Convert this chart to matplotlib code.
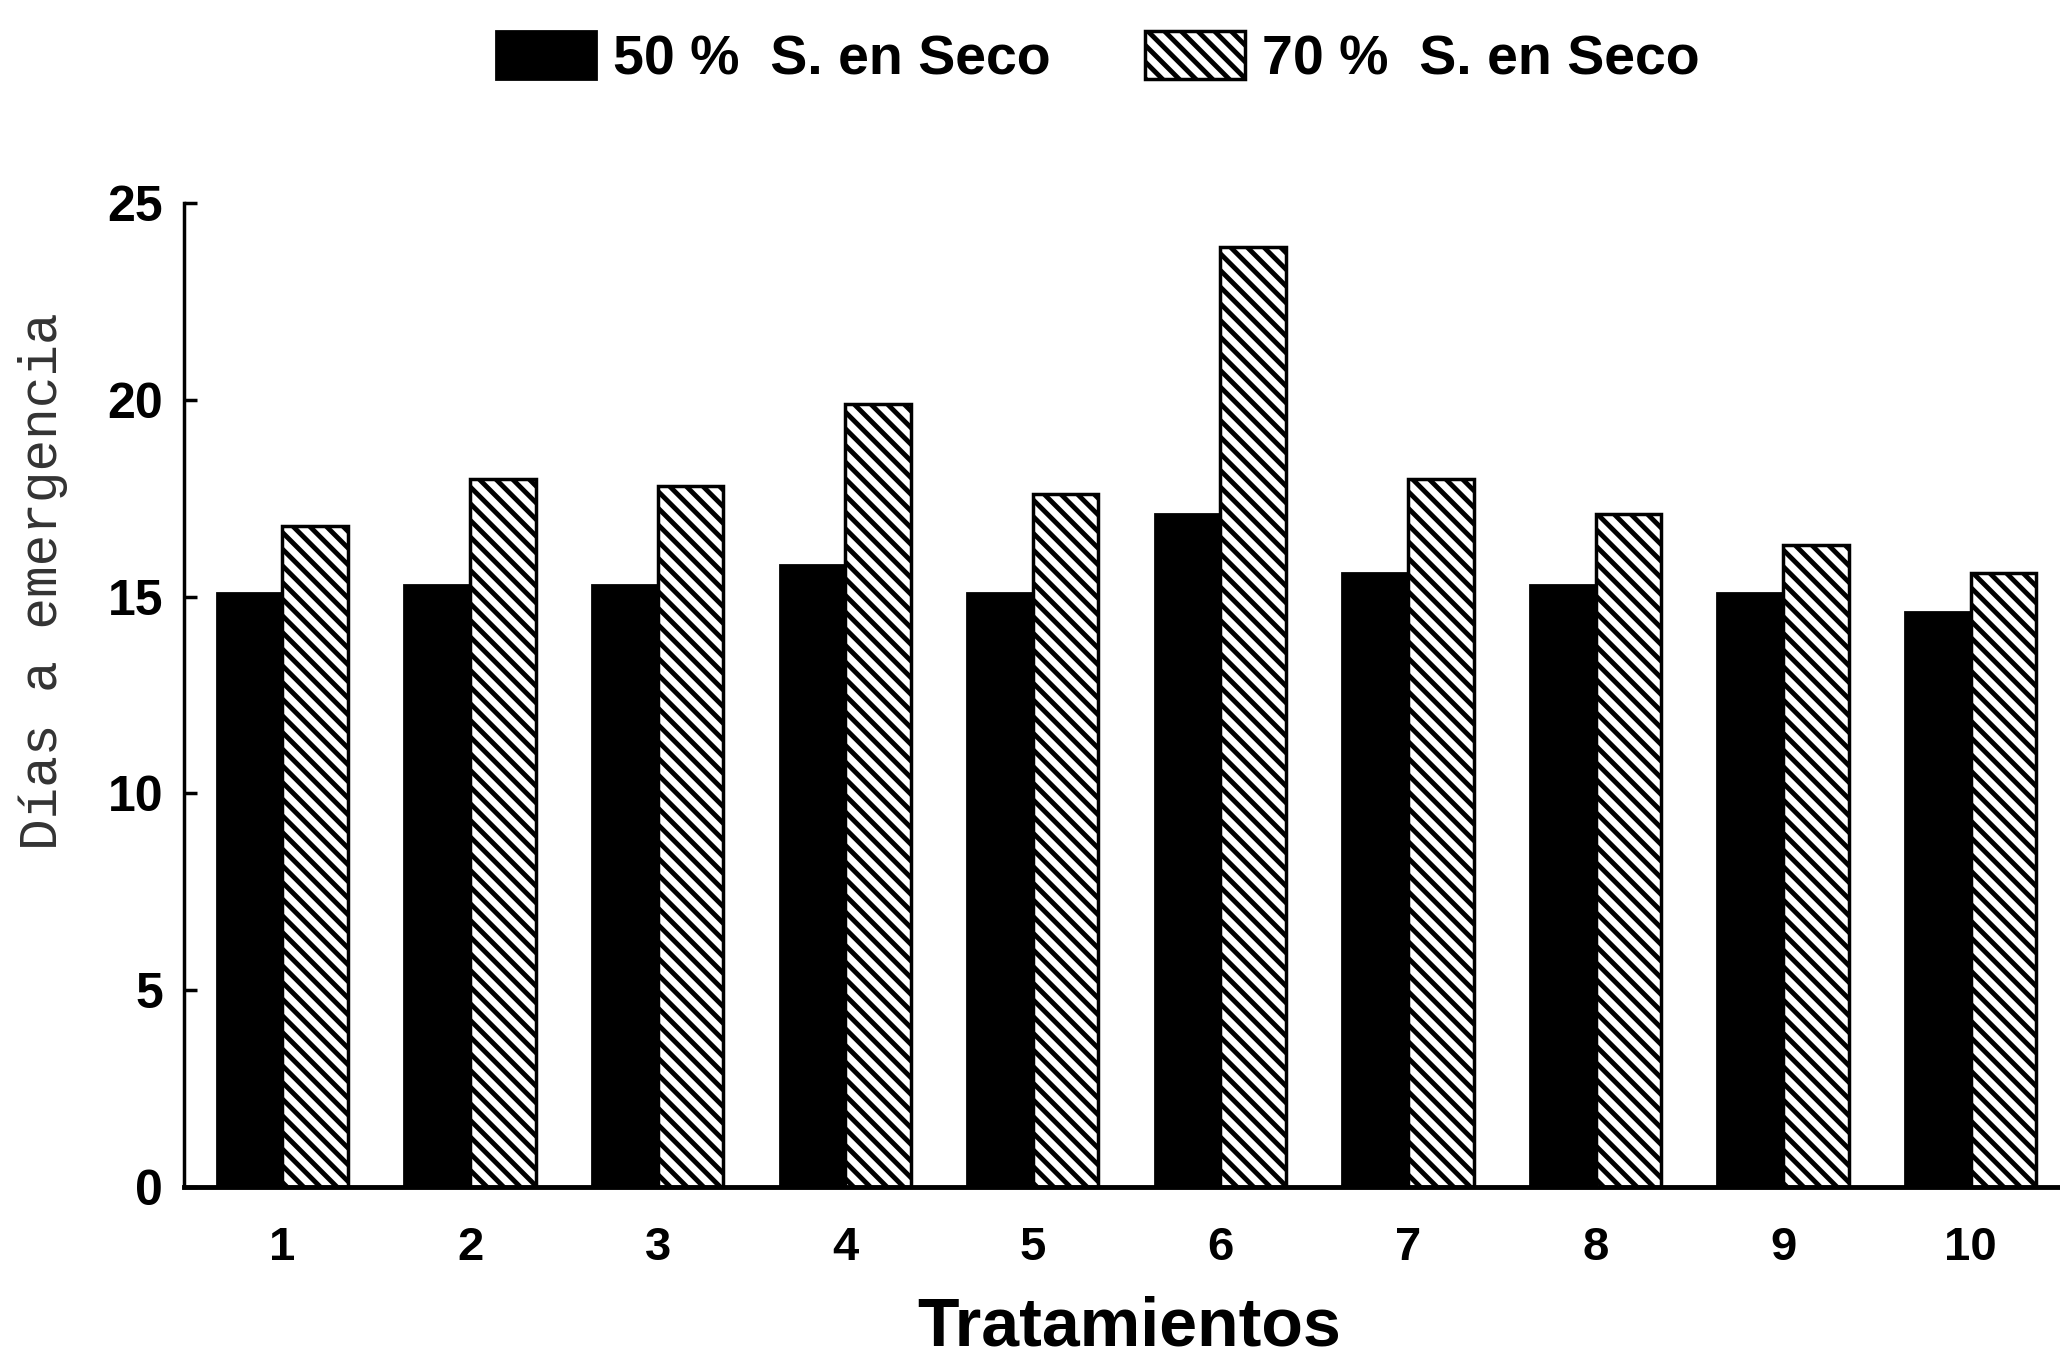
import numpy as np
import matplotlib
matplotlib.use("Agg")
import matplotlib.pyplot as plt

# values
tratamientos = ["1", "2", "3", "4", "5", "6", "7", "8", "9", "10"]
seco_50 = [15.1, 15.3, 15.3, 15.8, 15.1, 17.1, 15.6, 15.3, 15.1, 14.6]
seco_70 = [16.8, 18.0, 17.8, 19.9, 17.6, 23.9, 18.0, 17.1, 16.3, 15.6]
series_labels = ["50 %  S. en Seco", "70 %  S. en Seco"]

plt.rcParams["hatch.linewidth"] = 3.5
plt.rcParams["font.family"] = ["Liberation Sans", "DejaVu Sans"]

fig = plt.figure(figsize=(20.6, 13.64), dpi=100)
ax = fig.add_axes([0.0893, 0.130, 0.9107, 0.721])

x = np.arange(1, len(tratamientos) + 1)
w = 0.35
b1 = ax.bar(x - w / 2, seco_50, w, color="black", edgecolor="black",
            linewidth=2, label=series_labels[0])
b2 = ax.bar(x + w / 2, seco_70, w, color="white", edgecolor="black",
            hatch="\\\\", linewidth=2.5, label=series_labels[1])

ax.set_xlim(0.475, 10.476)
ax.set_ylim(0, 25)
ax.set_yticks([0, 5, 10, 15, 20, 25])
ax.set_xticks(x)
ax.set_xticklabels(tratamientos)

for s in ["top", "right"]:
    ax.spines[s].set_visible(False)
ax.spines["left"].set_linewidth(2.5)
ax.spines["bottom"].set_linewidth(3.5)

ax.tick_params(axis="y", direction="in", length=9, width=2.5, pad=15,
               labelsize=36)
ax.tick_params(axis="x", length=0, pad=28, labelsize=34)
for lab in ax.get_xticklabels() + ax.get_yticklabels():
    lab.set_fontweight("bold")

fig.text(0.021, 0.574, "Días a emergencia", rotation=90, ha="center",
         va="center", fontsize=38, family=["Liberation Mono", "DejaVu Sans Mono"],
         color="#333333")
fig.text(0.548, 0.027, "Tratamientos", ha="center", va="center",
         fontsize=49, fontweight="bold")

fig.legend(handles=[b1, b2], labels=series_labels, loc="center",
           bbox_to_anchor=(0.533, 0.957), ncol=2, frameon=False,
           prop={"size": 40, "weight": "bold"}, handlelength=1.8,
           handleheight=0.95, handletextpad=0.3, columnspacing=1.7)

fig.savefig("out.png", dpi=100)
